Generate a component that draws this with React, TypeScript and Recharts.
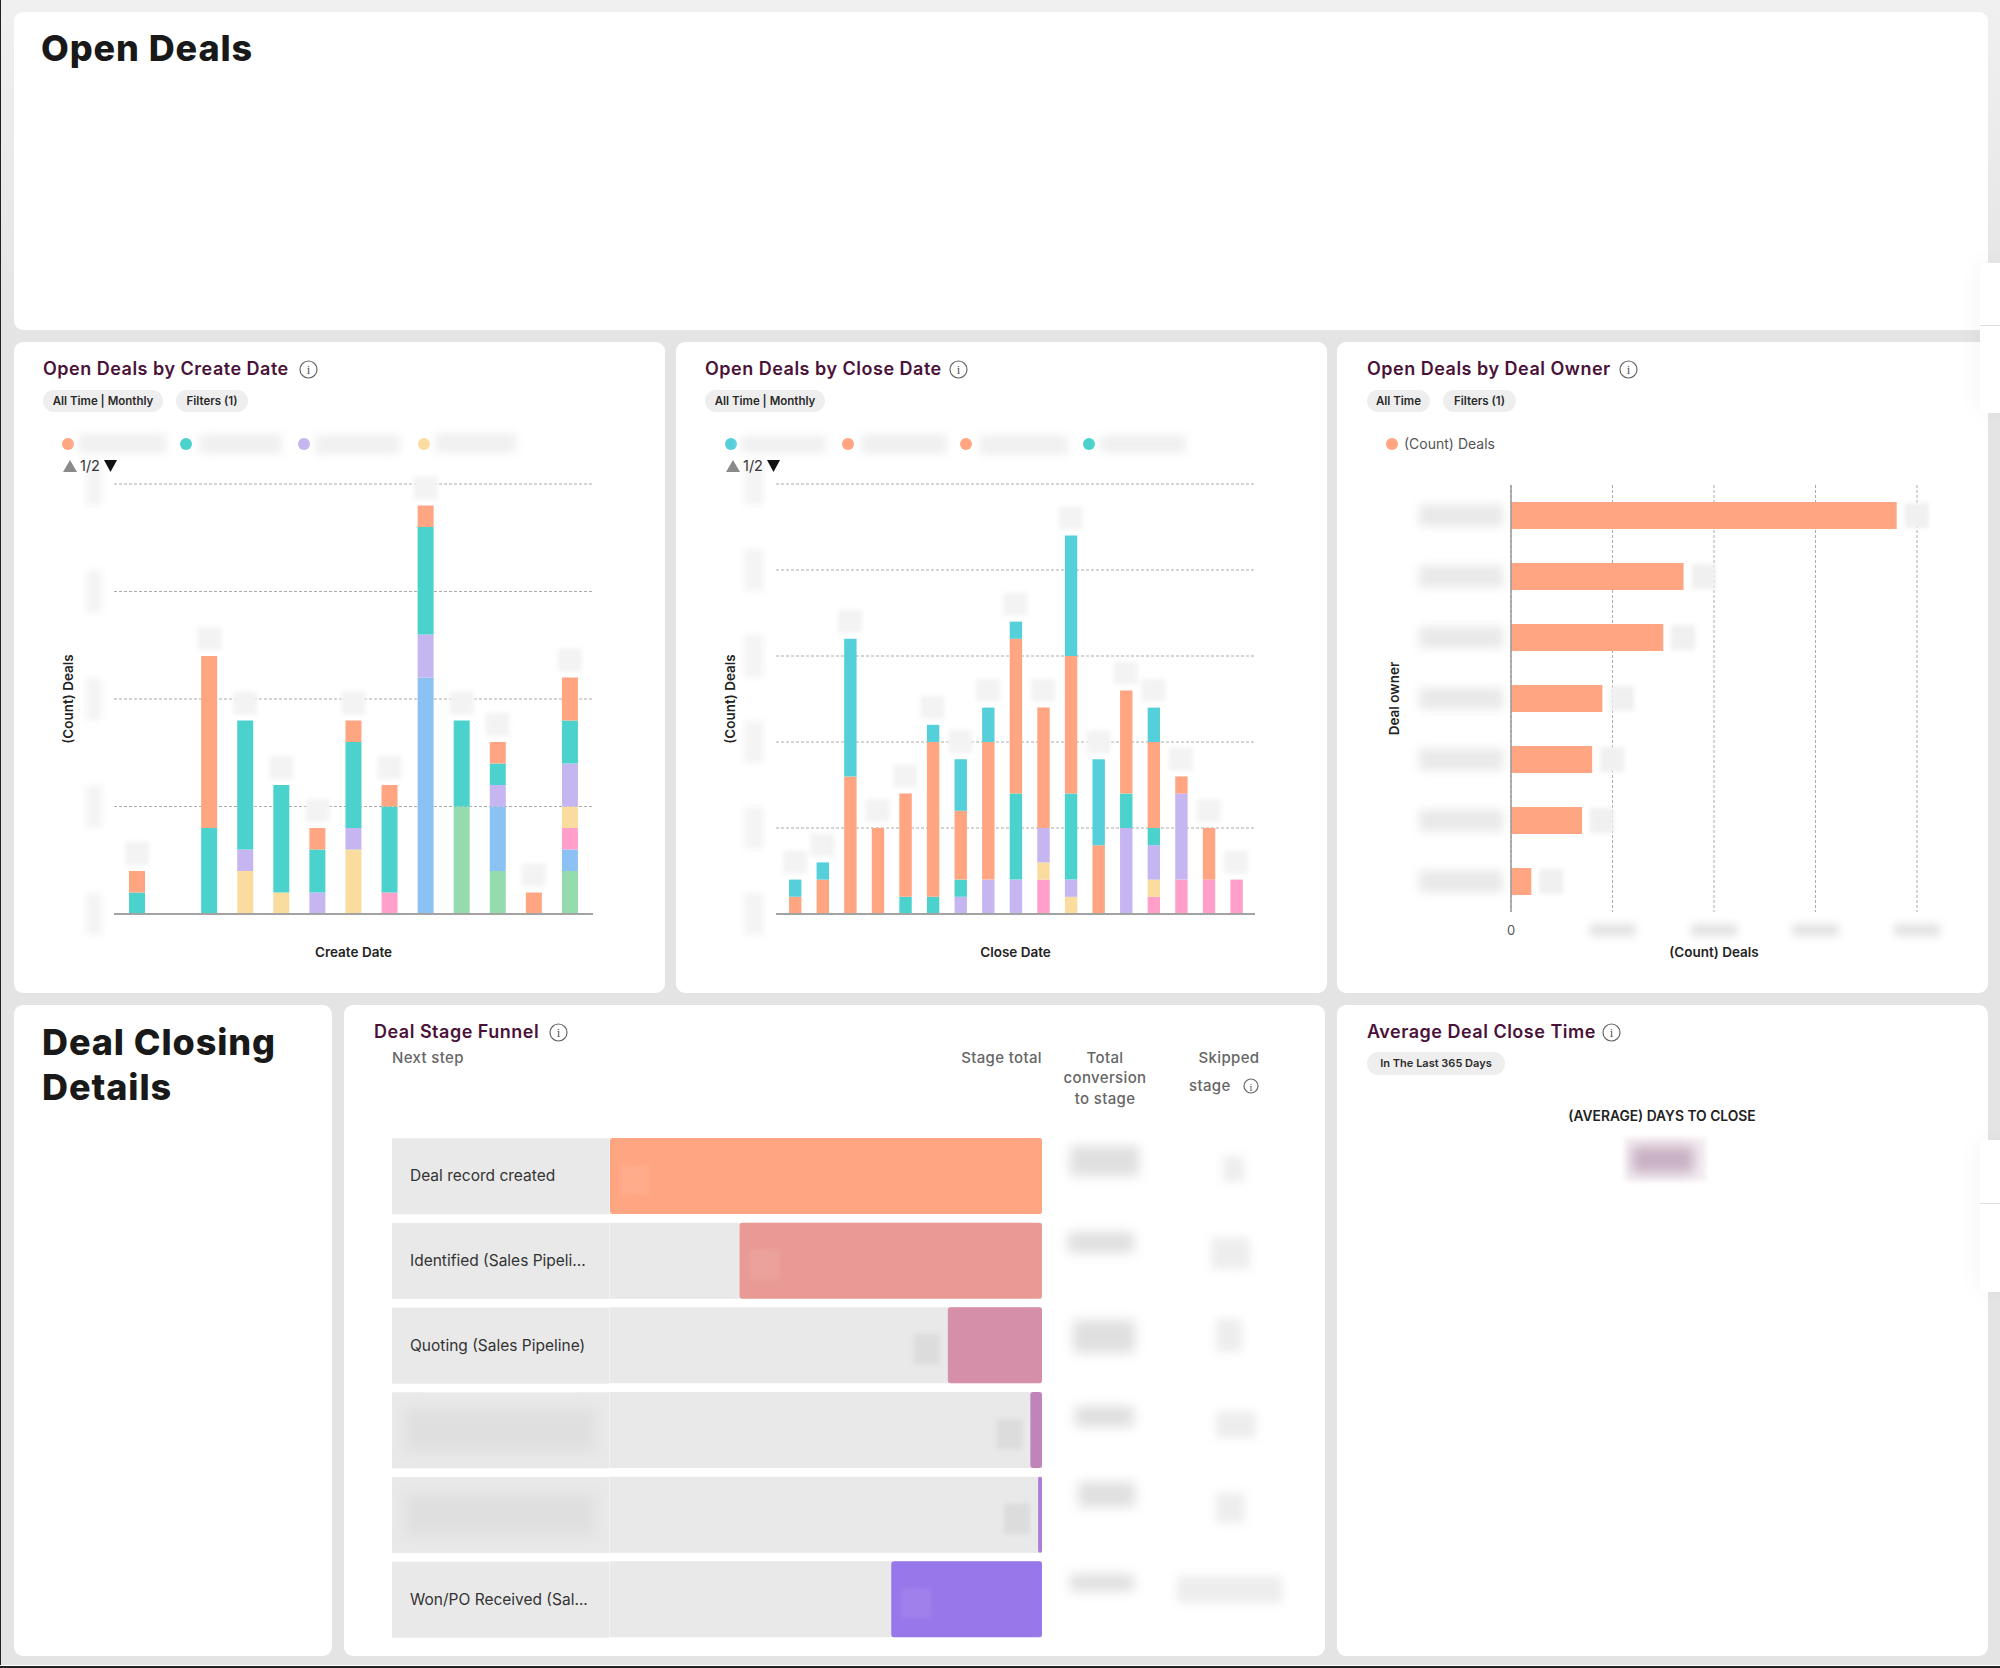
import { Bar, BarChart, CartesianGrid, Cell, ComposedChart, LabelList, Line, XAxis, YAxis } from 'recharts';

const FONT = 'Inter, "Noto Sans", sans-serif';
const TITLE = '#4a1238';
const ORANGE = '#ffa582';
const TEAL = '#4bd2cc';
const CYAN = '#55d0da';
const PURPLE = '#c5b5f1';
const YELLOW = '#fbdc9f';
const PINK = '#ff9fca';
const BLUE = '#8cc1f3';
const GREEN = '#94dcae';

// create date chart
const createMonths = ['m01', 'm02', 'm03', 'm04', 'm05', 'm06', 'm07', 'm08', 'm09', 'm10', 'm11', 'm12', 'm13'];
const createGreen = [0, 0, 0, 0, 0, 0, 0, 0, 0, 5, 2, 0, 2];
const createBlue = [0, 0, 0, 0, 0, 0, 0, 0, 11, 0, 3, 0, 1];
const createPink = [0, 0, 0, 0, 0, 0, 0, 1, 0, 0, 0, 0, 1];
const createYellow = [0, 0, 0, 2, 1, 0, 3, 0, 0, 0, 0, 0, 1];
const createPurple = [0, 0, 0, 1, 0, 1, 1, 0, 2, 0, 1, 0, 2];
const createTeal = [1, 0, 4, 6, 5, 2, 4, 4, 5, 4, 1, 0, 2];
const createOrange = [1, 0, 8, 0, 0, 1, 1, 1, 1, 0, 1, 1, 2];
const createTicks = [0, 5, 10, 15, 20];

// close date chart
const closeMonths = ['m01', 'm02', 'm03', 'm04', 'm05', 'm06', 'm07', 'm08', 'm09', 'm10', 'm11', 'm12', 'm13', 'm14', 'm15', 'm16', 'm17'];
const closePink = [0, 0, 0, 0, 0, 0, 0, 0, 0, 2, 0, 0, 0, 1, 2, 2, 2];
const closeYellow = [0, 0, 0, 0, 0, 0, 0, 0, 0, 1, 1, 0, 0, 1, 0, 0, 0];
const closePurple = [0, 0, 0, 0, 0, 0, 1, 2, 2, 2, 1, 0, 5, 2, 5, 0, 0];
const closeTeal = [0, 0, 0, 0, 1, 1, 1, 0, 5, 0, 5, 0, 2, 1, 0, 0, 0];
const closeOrange = [1, 2, 8, 5, 6, 9, 4, 8, 9, 7, 8, 4, 6, 5, 1, 3, 0];
const closeCyan = [1, 1, 8, 0, 0, 1, 3, 2, 1, 0, 7, 5, 0, 2, 0, 0, 0];
const closeTicks = [0, 5, 10, 15, 20, 25];

// deal owner chart
const owners = ['owner 1', 'owner 2', 'owner 3', 'owner 4', 'owner 5', 'owner 6', 'owner 7'];
const ownerDeals = [38, 17, 15, 9, 8, 7, 2];
const ownerTicks = [0, 10, 20, 30, 40];

// funnel, stage total as a share of the first stage
const funnelStages = ['Deal record created', 'Identified (Sales Pipeli...', 'Quoting (Sales Pipeline)', ' ', '  ', 'Won/PO Received (Sal...'];
const funnelShare = [100, 70, 21.8, 2.7, 0.9, 34.9];
const funnelColors = ['#ffa582', '#ea9a94', '#d58fa9', '#c084bb', '#a97fd6', '#9877ea'];

const conversionPatches = [
  [1067, 1143, 75, 36], [1065, 1229, 72, 27], [1070, 1317, 68, 39],
  [1072, 1403, 65, 27], [1075, 1479, 63, 31], [1067, 1571, 70, 23],
];
const skippedPatches = [
  [1221, 1154, 25, 30], [1209, 1236, 43, 35], [1214, 1317, 30, 37],
  [1214, 1409, 44, 31], [1214, 1491, 33, 34], [1175, 1574, 109, 31],
];

function buildRows(categories, series) {
  return categories.map((name, i) => {
    const row = { name, total: 0 };
    series.forEach((s) => {
      row[s.key] = s.values[i];
      row.total += s.values[i];
    });
    return row;
  });
}

const createSeries = [
  { key: 'green', color: GREEN, values: createGreen },
  { key: 'blue', color: BLUE, values: createBlue },
  { key: 'pink', color: PINK, values: createPink },
  { key: 'yellow', color: YELLOW, values: createYellow },
  { key: 'purple', color: PURPLE, values: createPurple },
  { key: 'teal', color: TEAL, values: createTeal },
  { key: 'orange', color: ORANGE, values: createOrange },
];
const closeSeries = [
  { key: 'pink', color: PINK, values: closePink },
  { key: 'yellow', color: YELLOW, values: closeYellow },
  { key: 'purple', color: PURPLE, values: closePurple },
  { key: 'teal', color: TEAL, values: closeTeal },
  { key: 'orange', color: ORANGE, values: closeOrange },
  { key: 'cyan', color: CYAN, values: closeCyan },
];

function Card({ x, y, w, h }) {
  return <div style={{ position: 'absolute', left: x, top: y, width: w, height: h, background: '#fff', borderRadius: 9 }} />;
}

function Txt({ x, y, size, weight = 400, color = '#222', align = 'left', spacing = 0, children }) {
  const shift = align === 'center' ? '-50%' : align === 'right' ? '-100%' : '0';
  return (
    <div style={{ position: 'absolute', left: x, top: y, transform: `translate(${shift}, -50%)`, fontFamily: FONT, fontSize: size, fontWeight: weight, color, letterSpacing: spacing, whiteSpace: 'nowrap', lineHeight: 1.2 }}>
      {children}
    </div>
  );
}

function CardTitle({ x, y, children }) {
  return <Txt x={x} y={y} size={18} weight={600} color={TITLE} spacing={0.5}>{children}</Txt>;
}

function Heading({ x, y, children }) {
  return <Txt x={x} y={y} size={36} weight={800} color="#191919" spacing={0.9}>{children}</Txt>;
}

function Header({ x, y, align, children }) {
  return <Txt x={x} y={y} size={15} weight={500} color="#666" align={align} spacing={0.35}>{children}</Txt>;
}

function Patch({ x, y, w, h, color = '#f0f0f0', blur = 4 }) {
  return <div style={{ position: 'absolute', left: x, top: y, width: w, height: h, background: color, filter: `blur(${blur}px)` }} />;
}

function InfoIcon({ x, y, r = 8.5 }) {
  return (
    <svg style={{ position: 'absolute', left: x - r - 1, top: y - r - 1 }} width={r * 2 + 2} height={r * 2 + 2}>
      <circle cx={r + 1} cy={r + 1} r={r} fill="none" stroke="#666" strokeWidth={1.2} />
      <text x={r + 1} y={r + 5.5} textAnchor="middle" fontSize={r * 1.5} fontFamily="Liberation Serif" fill="#555">i</text>
    </svg>
  );
}

function Chip({ x, y, w, h = 22, size = 11.5, children }) {
  return (
    <div style={{ position: 'absolute', left: x, top: y, width: w, height: h, lineHeight: `${h}px`, textAlign: 'center', background: '#eeeeee', borderRadius: h / 2, fontFamily: FONT, fontSize: size, fontWeight: 600, color: '#2b2b2b', whiteSpace: 'nowrap' }}>
      {children}
    </div>
  );
}

function Dot({ x, y, color }) {
  return <div style={{ position: 'absolute', left: x - 6, top: y - 6, width: 12, height: 12, borderRadius: 6, background: color }} />;
}

function Pager({ x, y }) {
  return (
    <>
      <svg style={{ position: 'absolute', left: x, top: y - 7 }} width={14} height={14}>
        <polygon points="7,1 14,13 0,13" fill="#8a8a8a" />
      </svg>
      <Txt x={x + 17} y={y} size={14.5} color="#333">1/2</Txt>
      <svg style={{ position: 'absolute', left: x + 41, top: y - 7 }} width={14} height={14}>
        <polygon points="0,1 13,1 6.5,13" fill="#111" />
      </svg>
    </>
  );
}

function StackedChart({ x, y, w, h, rows, series, ticks, barSize, xName, tickW }) {
  const axisTick = (p) => (
    <rect x={p.x - tickW} y={p.y - 21} width={tickW} height={42} fill="#f4f4f4" style={{ filter: 'blur(3px)' }} />
  );
  const totalLabel = (p) =>
    p.value ? <rect x={p.x - 12} y={p.y - 29} width={24} height={23} fill="#f3f3f3" style={{ filter: 'blur(2px)' }} /> : null;
  return (
    <div style={{ position: 'absolute', left: x, top: y }}>
      <ComposedChart width={w} height={h} data={rows} margin={{ top: 142, right: 72, bottom: 31, left: 48 }}>
        <CartesianGrid vertical={false} stroke="#ababab" strokeDasharray="3 2" />
        <XAxis
          dataKey="name"
          tick={false}
          tickLine={false}
          height={48}
          padding={{ left: 5, right: 5 }}
          axisLine={{ stroke: '#a3a3a3', strokeWidth: 2 }}
          label={{ value: xName, position: 'insideBottom', offset: 5, style: { fontFamily: FONT, fontSize: 13.5, fontWeight: 600, fill: '#222' } }}
        />
        <YAxis
          width={52}
          domain={[0, ticks[ticks.length - 1]]}
          ticks={ticks}
          interval={0}
          axisLine={false}
          tickLine={false}
          tickSize={0}
          tickMargin={12}
          tick={axisTick}
          label={{ value: '(Count) Deals', angle: -90, position: 'insideLeft', offset: 0, dx: 6, style: { textAnchor: 'middle', fontFamily: FONT, fontSize: 13.5, fontWeight: 600, fill: '#222' } }}
        />
        {series.map((s) => (
          <Bar key={s.key} dataKey={s.key} stackId="a" fill={s.color} barSize={barSize} isAnimationActive={false} />
        ))}
        <Line dataKey="total" stroke="none" dot={false} activeDot={false} legendType="none" isAnimationActive={false} label={totalLabel} />
      </ComposedChart>
    </div>
  );
}

function OwnerChart() {
  const rows = owners.map((name, i) => ({ name, deals: ownerDeals[i] }));
  const ownerTick = (p) => (
    <rect x={p.x - 90} y={p.y - 11} width={84} height={22} fill="#e9e9e9" style={{ filter: 'blur(5px)' }} />
  );
  const dealTick = (p) =>
    p.payload.value === 0 ? (
      <text x={p.x} y={p.y + 5} textAnchor="middle" fontFamily={FONT} fontSize={13} fill="#555">0</text>
    ) : (
      <rect x={p.x - 23} y={p.y - 6} width={46} height={12} fill="#e2e2e2" style={{ filter: 'blur(4px)' }} />
    );
  const valueLabel = (p) => (
    <rect x={p.x + p.width + 8} y={p.y + 1} width={24} height={25} fill="#f0f0f0" style={{ filter: 'blur(2px)' }} />
  );
  return (
    <div style={{ position: 'absolute', left: 1337, top: 342 }}>
      <BarChart layout="vertical" width={651} height={651} data={rows} margin={{ top: 143, right: 71, bottom: 31, left: 54 }}>
        <CartesianGrid horizontal={false} stroke="#ababab" strokeDasharray="3 2" />
        <XAxis
          type="number"
          domain={[0, 40]}
          ticks={ownerTicks}
          interval={0}
          height={50}
          axisLine={false}
          tickLine={false}
          tickSize={0}
          tickMargin={18}
          tick={dealTick}
          label={{ value: '(Count) Deals', position: 'insideBottom', offset: 5, style: { fontFamily: FONT, fontSize: 13.5, fontWeight: 600, fill: '#222' } }}
        />
        <YAxis
          type="category"
          dataKey="name"
          width={120}
          interval={0}
          tickLine={false}
          tickSize={0}
          axisLine={{ stroke: '#9a9a9a', strokeWidth: 1.5 }}
          tick={ownerTick}
          label={{ value: 'Deal owner', angle: -90, position: 'insideLeft', offset: 0, dx: 3, style: { textAnchor: 'middle', fontFamily: FONT, fontSize: 13.5, fontWeight: 600, fill: '#222' } }}
        />
        <Bar dataKey="deals" fill={ORANGE} barSize={27} isAnimationActive={false}>
          <LabelList dataKey="deals" content={valueLabel} />
        </Bar>
      </BarChart>
    </div>
  );
}

function FunnelChart() {
  const rows = funnelStages.map((name, i) => ({ name, share: funnelShare[i] }));
  const stageTick = (p) => {
    const name = p.payload.value;
    return (
      <g>
        <rect x={p.x - 218} y={p.y - 38} width={217.6} height={76} fill="#e9e9e9" />
        {name.trim() === '' ? (
          <rect x={p.x - 205} y={p.y - 21} width={190} height={42} fill="#dfdfdf" style={{ filter: 'blur(6px)' }} />
        ) : (
          <text x={p.x - 200} y={p.y + 5} fontFamily={FONT} fontSize={15.5} fill="#333">{name}</text>
        )}
      </g>
    );
  };
  const shareLabel = (p) => {
    const left = Math.min(p.x, p.x + p.width);
    const wide = Math.abs(p.width) > 120;
    return (
      <rect
        x={wide ? left + 10 : left - 34}
        y={p.y + 27}
        width={wide ? 30 : 26}
        height={30}
        fill={wide ? '#fff' : '#dcdcdc'}
        fillOpacity={wide ? 0.08 : 1}
        style={{ filter: 'blur(2px)' }}
      />
    );
  };
  return (
    <div style={{ position: 'absolute', left: 344, top: 1004 }}>
      <BarChart layout="vertical" width={981} height={652} data={rows} margin={{ top: 130, right: 283, bottom: 14, left: 48 }}>
        <XAxis type="number" hide domain={[0, 100]} reversed />
        <YAxis type="category" dataKey="name" width={218} interval={0} axisLine={false} tickLine={false} tickSize={0} tickMargin={0} tick={stageTick} />
        <Bar dataKey="share" barSize={76} radius={3} background={{ fill: '#e9e9e9' }} isAnimationActive={false}>
          {rows.map((r, i) => (
            <Cell key={r.name} fill={funnelColors[i]} />
          ))}
          <LabelList dataKey="share" content={shareLabel} />
        </Bar>
      </BarChart>
    </div>
  );
}

export default function App() {
  const createRows = buildRows(createMonths, createSeries);
  const closeRows = buildRows(closeMonths, closeSeries);
  return (
    <div style={{ position: 'absolute', left: 0, top: 0, width: 2000, height: 1668, overflow: 'hidden', background: 'linear-gradient(#f0f0f0, #e4e4e4 340px)' }}>
      <Card x={14} y={12} w={1974} h={318} />
      <Card x={14} y={342} w={651} h={651} />
      <Card x={676} y={342} w={651} h={651} />
      <Card x={1337} y={342} w={651} h={651} />
      <Card x={14} y={1005} w={318} h={651} />
      <Card x={344} y={1005} w={981} h={651} />
      <Card x={1337} y={1005} w={651} h={651} />

      <div style={{ position: 'absolute', left: 1980, top: 263, width: 20, height: 150, background: '#fff', borderRadius: '6px 0 0 6px', boxShadow: '0 0 24px rgba(0,0,0,0.05)' }} />
      <div style={{ position: 'absolute', left: 1980, top: 325, width: 20, height: 1, background: '#ddd' }} />
      <div style={{ position: 'absolute', left: 1980, top: 1140, width: 20, height: 152, background: '#fff', borderRadius: '6px 0 0 6px', boxShadow: '0 0 24px rgba(0,0,0,0.05)' }} />
      <div style={{ position: 'absolute', left: 1980, top: 1203, width: 20, height: 1, background: '#ddd' }} />

      <Heading x={41} y={49}>Open Deals</Heading>
      <Heading x={42} y={1043}>Deal Closing</Heading>
      <Heading x={42} y={1088}>Details</Heading>

      <CardTitle x={43} y={369}>Open Deals by Create Date</CardTitle>
      <InfoIcon x={308} y={369} />
      <Chip x={43} y={390} w={120}>All Time | Monthly</Chip>
      <Chip x={176} y={390} w={72}>Filters (1)</Chip>
      <StackedChart x={14} y={342} w={651} h={651} rows={createRows} series={createSeries} ticks={createTicks} barSize={16} xName="Create Date" tickW={16} />
      <Dot x={68} y={444} color={ORANGE} />
      <Patch x={78} y={434} w={88} h={19} />
      <Dot x={186} y={444} color={TEAL} />
      <Patch x={199} y={434} w={83} h={20} />
      <Dot x={304} y={444} color={PURPLE} />
      <Patch x={315} y={435} w={85} h={19} />
      <Dot x={424} y={444} color={YELLOW} />
      <Patch x={435} y={433} w={81} h={20} />
      <Pager x={63} y={466} />

      <CardTitle x={705} y={369}>Open Deals by Close Date</CardTitle>
      <InfoIcon x={958} y={369} />
      <Chip x={705} y={390} w={120}>All Time | Monthly</Chip>
      <StackedChart x={676} y={342} w={651} h={651} rows={closeRows} series={closeSeries} ticks={closeTicks} barSize={12.4} xName="Close Date" tickW={20} />
      <Dot x={731} y={444} color={CYAN} />
      <Patch x={741} y={436} w={85} h={17} />
      <Dot x={848} y={444} color={ORANGE} />
      <Patch x={861} y={434} w={86} h={20} />
      <Dot x={966} y={444} color={ORANGE} />
      <Patch x={979} y={435} w={89} h={20} />
      <Dot x={1089} y={444} color={TEAL} />
      <Patch x={1100} y={435} w={86} h={18} />
      <Pager x={726} y={466} />

      <CardTitle x={1367} y={369}>Open Deals by Deal Owner</CardTitle>
      <InfoIcon x={1628} y={369} />
      <Chip x={1367} y={390} w={63}>All Time</Chip>
      <Chip x={1443} y={390} w={73}>Filters (1)</Chip>
      <Dot x={1392} y={444} color={ORANGE} />
      <Txt x={1404} y={444} size={14} color="#555">(Count) Deals</Txt>
      <OwnerChart />

      <CardTitle x={374} y={1032}>Deal Stage Funnel</CardTitle>
      <InfoIcon x={558} y={1032} />
      <Header x={392} y={1058}>Next step</Header>
      <Header x={1042} y={1058} align="right">Stage total</Header>
      <Header x={1105} y={1058} align="center">Total</Header>
      <Header x={1105} y={1078} align="center">conversion</Header>
      <Header x={1105} y={1099} align="center">to stage</Header>
      <Header x={1229} y={1058} align="center">Skipped</Header>
      <Header x={1189} y={1086}>stage</Header>
      <InfoIcon x={1251} y={1086} r={7} />
      <FunnelChart />
      {conversionPatches.map(([x, y, w, h]) => (
        <Patch key={y} x={x + 3} y={y + 3} w={w - 6} h={h - 6} color="#dfdfdf" blur={6} />
      ))}
      {skippedPatches.map(([x, y, w, h]) => (
        <Patch key={y} x={x + 2} y={y + 2} w={w - 4} h={h - 4} color="#ededed" blur={5} />
      ))}

      <CardTitle x={1367} y={1032}>Average Deal Close Time</CardTitle>
      <InfoIcon x={1611} y={1032} />
      <Chip x={1367} y={1052} w={138} h={23} size={11}>In The Last 365 Days</Chip>
      <Txt x={1662} y={1116} size={13.8} weight={600} color="#222" align="center">(AVERAGE) DAYS TO CLOSE</Txt>
      <Patch x={1625} y={1138} w={81} h={43} color="#f3eef2" blur={2} />
      <Patch x={1632} y={1146} w={62} h={27} color="#c9b1c4" blur={6} />

      <div style={{ position: 'absolute', left: 0, top: 0, width: 1, height: 1668, background: '#222' }} />
      <div style={{ position: 'absolute', left: 0, top: 1665, width: 2000, height: 1, background: '#fff' }} />
      <div style={{ position: 'absolute', left: 0, top: 1666, width: 2000, height: 2, background: '#222' }} />
    </div>
  );
}
